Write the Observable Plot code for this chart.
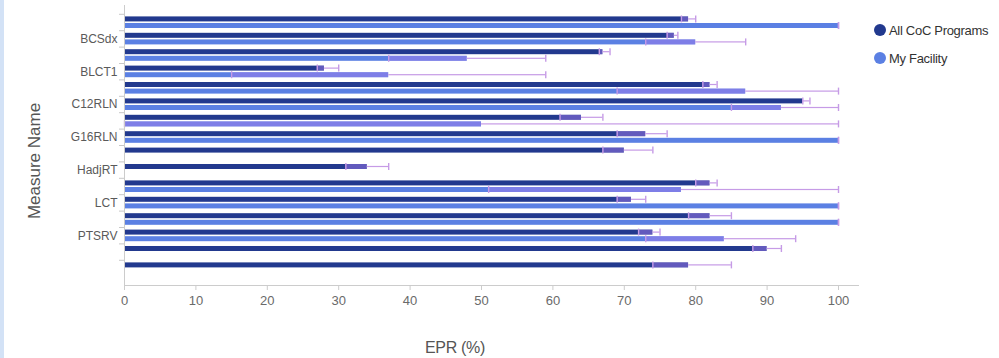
<!DOCTYPE html>
<html>
<head>
<meta charset="utf-8">
<script src="https://cdn.jsdelivr.net/npm/d3@7"></script>
<script src="https://cdn.jsdelivr.net/npm/@observablehq/plot@0.6"></script>
<style>
  body { margin: 0; background: #fff; }
  #wrap { position: relative; width: 999px; height: 358px; overflow: hidden; background: #fff;
          font-family: "Liberation Sans", Arial, sans-serif; }
  #edge { position: absolute; left: 0; top: 0; width: 4px; height: 358px; background: #d3e2f6; }
  #chart { position: absolute; left: 0; top: 0; }
  .ytitle { position: absolute; left: 35px; top: 161px; transform: translate(-50%, -50%) rotate(-90deg);
            font-size: 17px; color: #555; white-space: nowrap; }
  .xtitle { position: absolute; left: 455px; top: 348px; transform: translate(-50%, -50%);
            font-size: 16px; letter-spacing: -0.3px; color: #555; white-space: nowrap; }
  .legend { position: absolute; left: 874px; top: 16px; font-size: 13px; letter-spacing: -0.3px; color: #333; white-space: nowrap; }
  .legend .item { display: flex; align-items: center; height: 28px; white-space: nowrap; }
  .legend .sw { width: 12px; height: 12px; border-radius: 50%; margin-right: 3px; flex: none; }
</style>
</head>
<body>
<div id="wrap">
  <div id="edge"></div>
  <div id="chart"></div>
  <div class="ytitle">Measure Name</div>
  <div class="xtitle">EPR (%)</div>
  <div class="legend" id="legend"></div>
</div>
<script>
// ---- data ----
const measureLabels = ["", "BCSdx", "", "BLCT1", "", "C12RLN", "", "G16RLN", "", "HadjRT", "", "LCT", "", "PTSRV", "", ""];
const seriesNames = ["All CoC Programs", "My Facility"];
const seriesColors = ["#22398e", "#5b80e3"];

const cocValue = [79, 77, 67, 28, 82, 95, 64, 73, 70, 34, 82, 71, 82, 74, 90, 79];
const cocLow   = [78, 76, 66.5, 27, 81, 95, 61, 69, 67, 31, 80, 69, 79, 72, 88, 74];
const cocHigh  = [80, 77.5, 68, 30, 83, 96, 67, 76, 74, 37, 83, 73, 85, 75, 92, 85];

const facValue = [100, 80, 48, 37, 87, 92, 50, 100, null, null, 78, 100, 100, 84, null, null];
const facLow   = [100, 73, 37, 15, 69, 85, 0, 100, null, null, 51, 100, 100, 73, null, null];
const facHigh  = [100, 87, 59, 59, 100, 100, 100, 100, null, null, 100, 100, 100, 94, null, null];

const xTicks = [0, 10, 20, 30, 40, 50, 60, 70, 80, 90, 100];

// ---- table ----
const keys = measureLabels.map((_, i) => String(i));
const coc = keys.map((k, i) => ({key: k, value: cocValue[i], low: cocLow[i], high: cocHigh[i]}));
const fac = keys.map((k, i) => ({key: k, value: facValue[i], low: facLow[i], high: facHigh[i]}))
                .filter(d => d.value != null);

const errFill = "#a27ceb";
const errLine = "#c69be6";

function seriesMarks(data, color, geo) {
  return [
    Plot.barX(data, {y: "key", x1: 0, x2: "value", fill: color, insetTop: geo.barTop, insetBottom: geo.barBottom}),
    Plot.barX(data.filter(d => d.low < d.value), {y: "key", x1: "low", x2: "value", fill: errFill, fillOpacity: 0.5,
      insetTop: geo.barTop, insetBottom: geo.barBottom}),
    Plot.barX(data.filter(d => d.high > d.value), {y: "key", x1: "value", x2: "high", fill: errLine,
      insetTop: geo.lineTop, insetBottom: geo.lineBottom}),
    Plot.tickX(data, {y: "key", x: "low", stroke: errLine, strokeWidth: 1.4, insetTop: geo.capTop, insetBottom: geo.capBottom}),
    Plot.tickX(data, {y: "key", x: "high", stroke: errLine, strokeWidth: 1.4, insetTop: geo.capTop, insetBottom: geo.capBottom})
  ];
}

const darkGeo  = {barTop: 2.6, barBottom: 8.8, lineTop: 4.5, lineBottom: 10.7, capTop: 1.6, capBottom: 7.8};
const lightGeo = {barTop: 9.2, barBottom: 2.2, lineTop: 11.1, lineBottom: 4.1, capTop: 8.2, capBottom: 1.2};

const chart = Plot.plot({
  width: 999,
  height: 358,
  marginLeft: 124,
  marginRight: 141,
  marginTop: 5,
  marginBottom: 73,
  style: {fontFamily: '"Liberation Sans", Arial, sans-serif', background: "transparent", overflow: "visible"},
  x: {domain: [0, 102.8]},
  y: {domain: keys, paddingInner: 0, paddingOuter: 0.537, align: 0.5, round: false},
  marks: [
    ...seriesMarks(coc, seriesColors[0], darkGeo),
    ...seriesMarks(fac, seriesColors[1], lightGeo),
    Plot.frame({anchor: "left", stroke: "#cccccc"}),
    Plot.frame({anchor: "bottom", stroke: "#cccccc"}),
    Plot.axisX({ticks: xTicks, tickSize: 5, tickPadding: 5, fontSize: 13, stroke: "#cccccc", color: "#6a6a6a", label: null}),
    Plot.axisY({tickSize: 0, tickPadding: 7, fontSize: 12, color: "#5a5a5a", label: null,
      tickFormat: k => measureLabels[+k]}),
    Plot.axisY({tickSize: 5, tickFormat: () => "", stroke: "#c8c8c8", dy: -8.2, label: null})
  ]
});
document.getElementById("chart").appendChild(chart);

const legend = document.getElementById("legend");
seriesNames.forEach((name, i) => {
  const item = document.createElement("div");
  item.className = "item";
  const sw = document.createElement("span");
  sw.className = "sw";
  sw.style.background = seriesColors[i];
  item.appendChild(sw);
  item.appendChild(document.createTextNode(name));
  legend.appendChild(item);
});
</script>
</body>
</html>
